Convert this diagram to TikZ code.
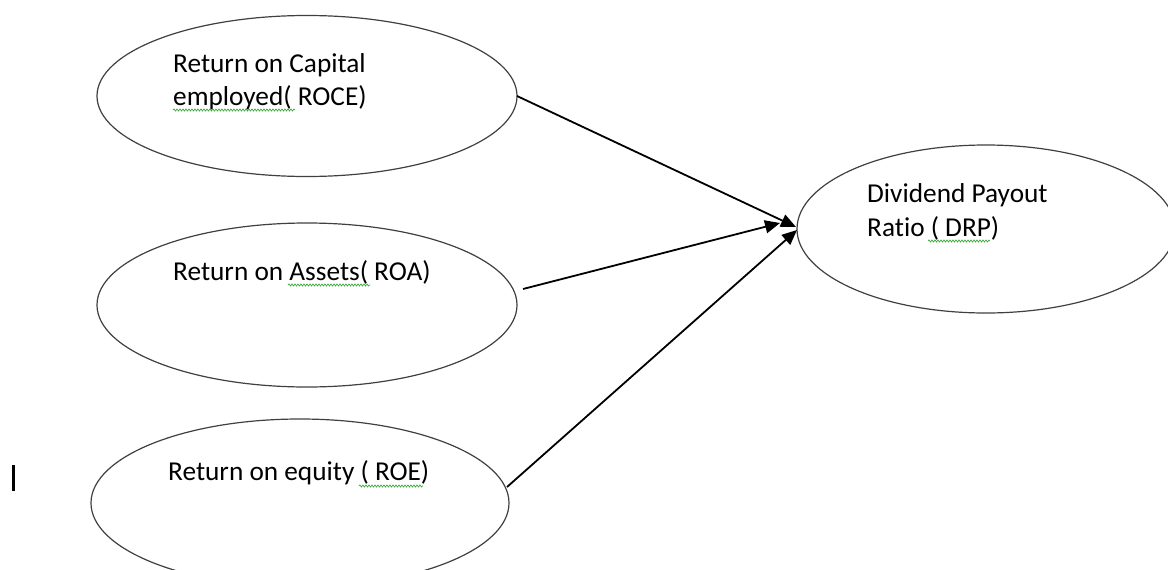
\documentclass[tikz,border=0pt]{standalone}
\usepackage{fontspec}
\setmainfont{Carlito}[Ligatures={NoCommon}]
\usetikzlibrary{shapes.geometric,arrows.meta,decorations.pathmorphing}
\definecolor{edgegray}{HTML}{404040}
\definecolor{spellgreen}{HTML}{3DAA3D}
\tikzset{
  oval/.style={ellipse, draw=edgegray, line width=1.2pt, inner sep=0pt},
  lbl/.style={anchor=base west, inner sep=0pt, font=\fontsize{27.3}{32}\selectfont},
  conn/.style={line width=1.8pt, -{Triangle[length=15pt,width=13pt]}},
  squig/.style={spellgreen, line width=0.7pt, decorate, decoration={snake, amplitude=1pt, segment length=3pt}}
}
\begin{document}
\begin{tikzpicture}[x=1pt,y=-1pt]
\useasboundingbox (0,0) rectangle (1168,570);
\clip (0,0) rectangle (1168,570);
\fill[white] (0,0) rectangle (1168,570);

% ellipses
\node[oval, minimum width=420pt, minimum height=161pt] (roce) at (307,96) {};
\node[oval, minimum width=420pt, minimum height=164pt] (roa) at (307,305) {};
\node[oval, minimum width=418pt, minimum height=168pt] (roe) at (300,503) {};
\node[oval, minimum width=378pt, minimum height=168pt] (drp) at (986,229) {};

% labels
\node[lbl] (t1) at (173,72) {Return on Capital};
\node[lbl] (t2) at (173,105) {employed( ROCE)};
\node[lbl] (t3) at (173,280) {Return on Assets( ROA)};
\node[lbl] (t4) at (168,480) {Return on equity ( ROE)};
\node[lbl] (t5) at (867,202) {Dividend Payout};
\node[lbl] (t6) at (867,236) {Ratio ( DRP)};

% spell-check squiggles
\draw[squig] (173,110) -- (295,110);
\draw[squig] (288,285) -- (370,285);
\draw[squig] (359,486) -- (423,486);
\draw[squig] (928,241) -- (990,241);

% cursor mark
\draw[line width=2.5pt] (13.5,465) -- (13.5,491);

% connector endpoints
\coordinate (s1) at (517,96);
\coordinate (s2) at (523,289);
\coordinate (s3) at (507,487);
\coordinate (e1) at (796,227);
\coordinate (e2) at (780,223);
\coordinate (e3) at (797,230);

\draw[conn] (s1) -- (e1);
\draw[conn] (s2) -- (e2);
\draw[conn] (s3) -- (e3);
\end{tikzpicture}
\end{document}
